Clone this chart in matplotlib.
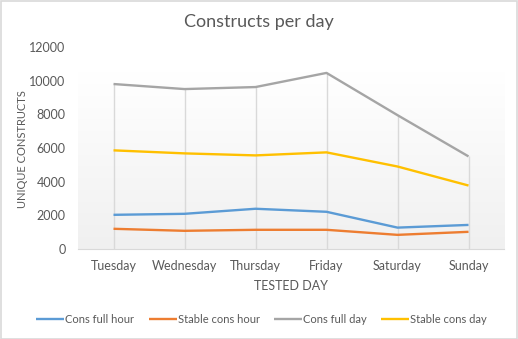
import matplotlib
matplotlib.use("Agg")
import matplotlib.pyplot as plt
import numpy as np
from matplotlib.patches import Rectangle
from matplotlib.colors import LinearSegmentedColormap

plt.rcParams['font.family'] = ['Lato', 'DejaVu Sans']

days = ["Tuesday", "Wednesday", "Thursday", "Friday", "Saturday", "Sunday"]
cons_full_hour = [2030, 2090, 2390, 2210, 1270, 1430]
stable_cons_hour = [1200, 1080, 1140, 1140, 840, 1020]
cons_full_day = [9800, 9500, 9620, 10460, 7950, 5500]
stable_cons_day = [5860, 5680, 5560, 5740, 4900, 3770]

series = [
    ("Cons full hour", cons_full_hour, "#5b9bd5"),
    ("Stable cons hour", stable_cons_hour, "#ed7d31"),
    ("Cons full day", cons_full_day, "#a5a5a5"),
    ("Stable cons day", stable_cons_day, "#ffc000"),
]

txt = "#595959"
fig = plt.figure(figsize=(5.18, 3.39), dpi=100)
fig.patch.set_facecolor("white")
fig.add_artist(Rectangle((0.001, 0.001), 0.997, 0.996, transform=fig.transFigure,
                         fill=False, edgecolor="#d9d9d9", linewidth=1.2))

ax = fig.add_axes([0.1506, 0.2655, 0.8224, 0.5959])
x = np.arange(len(days)) + 0.5

# gradient plot-area background
grad = np.linspace(0, 1, 256).reshape(-1, 1)
cmap = LinearSegmentedColormap.from_list("g", ["#f0f0f0", "#ffffff"])
ax.imshow(grad, cmap=cmap, aspect="auto", extent=[0, 1, 0, 0.875],
          transform=ax.transAxes, origin="lower", zorder=0)

# drop lines
tops = np.max(np.array([s[1] for s in series]), axis=0)
ax.vlines(x, 0, tops, colors="#d9d9d9", linewidth=1.0, zorder=1)

for name, vals, col in series:
    ax.plot(x, vals, color=col, linewidth=1.7, label=name, zorder=3,
            solid_capstyle="butt")

ax.set_xlim(0, len(days))
ax.set_ylim(0, 12000)
ax.set_yticks(range(0, 12001, 2000))
ax.set_xticks(x)
ax.set_xticklabels(days)
for s in ["top", "right", "left"]:
    ax.spines[s].set_visible(False)
ax.spines["bottom"].set_color("#d9d9d9")
ax.tick_params(axis="both", length=0, colors=txt, labelsize=9)
ax.tick_params(axis="x", pad=8)
ax.tick_params(axis="y", pad=9)
ax.set_facecolor("none")

ax.set_xlabel("TESTED DAY", color=txt, fontsize=9, labelpad=6)
fig.text(23 / 518, 1 - 149 / 339, "UNIQUE CONSTRUCTS", rotation=90, ha="center",
         va="center", color=txt, fontsize=8)
fig.text(0.5, 0.935, "Constructs per day", ha="center", va="center",
         color=txt, fontsize=13)

leg = fig.legend(loc="center", bbox_to_anchor=(0.505, 0.058), ncol=4, frameon=False,
                 fontsize=8, handlelength=2.5, handletextpad=0.1, columnspacing=1.3,
                 labelcolor=txt)

fig.savefig("out.png", dpi=100)
